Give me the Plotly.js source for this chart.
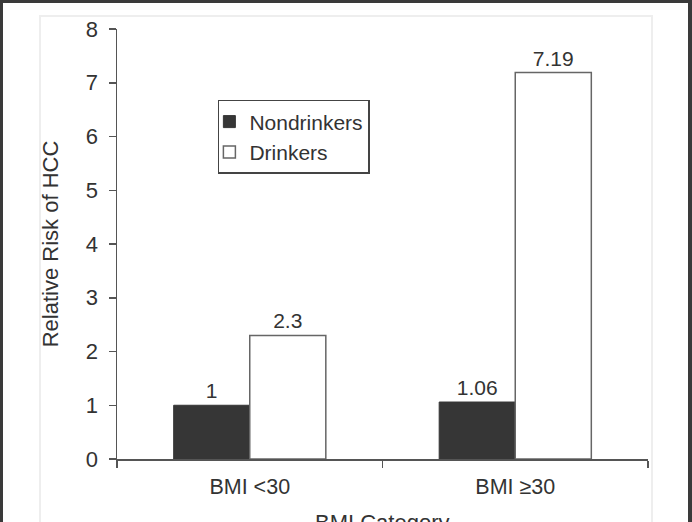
<!DOCTYPE html>
<html>
<head>
<meta charset="utf-8">
<script src="https://cdn.plot.ly/plotly-3.0.1.min.js"></script>
<style>
  html, body { margin: 0; padding: 0; background: #ffffff; }
  #wrap { position: relative; width: 692px; height: 522px; overflow: hidden; }
  #chart { position: absolute; left: 0; top: 0; width: 692px; height: 522px; }
  #frame { position: absolute; left: 0; top: 0; width: 692px; height: 530px; box-sizing: border-box;
           border-left: 3px solid #3a3a3a; border-top: 3px solid #3a3a3a; border-right: 4px solid #3a3a3a;
           pointer-events: none; }
</style>
</head>
<body>
<div id="wrap">
  <div id="chart"></div>
  <div id="frame"></div>
</div>
<script>
const categories = ["BMI <30", "BMI ≥30"];
const nondrinkers = [1, 1.06];
const drinkers = [2.3, 7.19];
const nondrinkersLabels = ["1", "1.06"];
const drinkersLabels = ["2.3", "7.19"];
const yTicks = [0, 1, 2, 3, 4, 5, 6, 7, 8];
const xTitle = "BMI Category";
const yTitle = "Relative Risk of HCC";

const FONT = "Liberation Sans, Arial, sans-serif";
const TXT = "#333333";

const traces = [
  {
    type: "bar", name: "Nondrinkers", x: categories, y: nondrinkers,
    text: nondrinkersLabels, textposition: "outside", cliponaxis: false,
    textfont: {family: FONT, size: 21, color: TXT},
    marker: {color: "#363636", line: {color: "#363636", width: 1}},
    hoverinfo: "x+y"
  },
  {
    type: "bar", name: "Drinkers", x: categories, y: drinkers,
    text: drinkersLabels, textposition: "outside", cliponaxis: false,
    textfont: {family: FONT, size: 21, color: TXT},
    marker: {color: "#ffffff", line: {color: "#666666", width: 1.5}},
    hoverinfo: "x+y"
  }
];

const layout = {
  width: 692, height: 522,
  margin: {l: 117, r: 44, t: 29, b: 63},
  paper_bgcolor: "#ffffff", plot_bgcolor: "#ffffff",
  font: {family: FONT, size: 20, color: TXT},
  barmode: "group", bargap: 0.427, bargroupgap: 0,
  showlegend: true,
  legend: {
    x: 0.19, y: 0.835, xanchor: "left", yanchor: "top",
    bgcolor: "#ffffff", bordercolor: "#444444", borderwidth: 1.5,
    font: {family: FONT, size: 21, color: TXT},
    itemwidth: 30, indentation: -10, tracegroupgap: 0
  },
  xaxis: {
    type: "category",
    showline: true, linecolor: "#555555", linewidth: 1.5,
    ticks: "outside", tickson: "boundaries", ticklen: 7, tickcolor: "#555555", tickwidth: 1.5,
    ticklabelstandoff: 8,
    showgrid: false, zeroline: false,
    tickfont: {family: FONT, size: 21.5, color: TXT}
  },
  yaxis: {
    range: [0, 8], tickvals: yTicks, ticktext: yTicks.map(String),
    showline: true, linecolor: "#555555", linewidth: 1.5,
    ticks: "outside", ticklen: 7, tickcolor: "#555555", tickwidth: 1.5,
    ticklabelstandoff: 6,
    showgrid: false, zeroline: false,
    tickfont: {family: FONT, size: 22, color: TXT},
    title: {text: yTitle, font: {family: FONT, size: 22, color: TXT}, standoff: 21}
  },
  annotations: [
    {text: xTitle, xref: "paper", yref: "paper", x: 0.5, y: -0.114,
     xanchor: "center", yanchor: "top", showarrow: false,
     font: {family: FONT, size: 22, color: TXT}}
  ],
  shapes: [
    {type: "rect", xref: "paper", yref: "paper", layer: "below",
     x0: -0.145, x1: 1.0075, y0: -0.3, y1: 1.0302,
     line: {color: "#eeeeee", width: 2}, fillcolor: "rgba(0,0,0,0)"}
  ]
};

Plotly.newPlot("chart", traces, layout, {displayModeBar: false, staticPlot: true});
</script>
</body>
</html>
